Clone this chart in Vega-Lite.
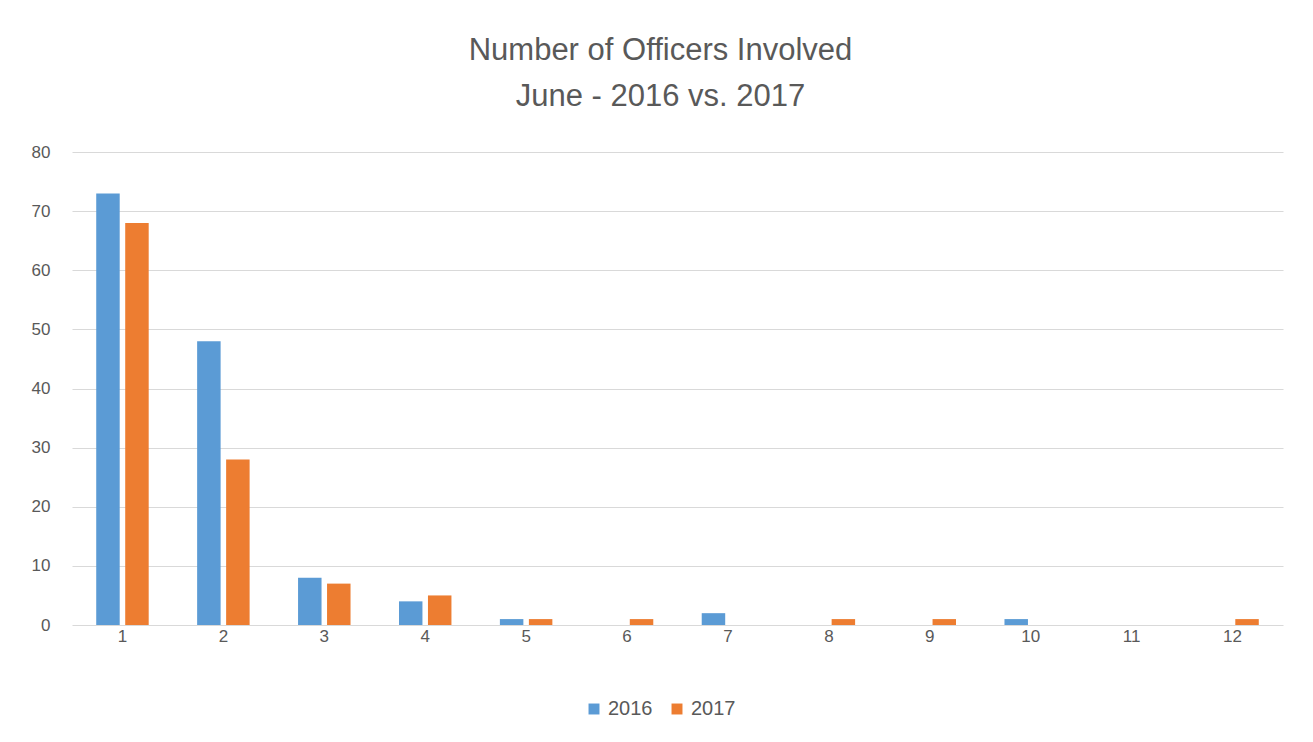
{
  "$schema": "https://vega.github.io/schema/vega-lite/v6.json",
  "autosize": "none",
  "width": 1211,
  "height": 473,
  "padding": {"left": 72, "top": 152, "right": 30, "bottom": 117},
  "background": "white",
  "title": {
    "text": ["Number of Officers Involved", "June - 2016 vs. 2017"],
    "font": "Liberation Sans",
    "fontSize": 31,
    "fontWeight": "normal",
    "color": "#595959",
    "lineHeight": 46,
    "anchor": "middle",
    "dx": -17,
    "offset": 30
  },
  "config": {
    "view": {"stroke": null},
    "axis": {"labelFont": "Liberation Sans", "labelColor": "#595959", "labelFontSize": 17}
  },
  "data": {
    "values": [
      {"officers": "1", "year": "2016", "count": 73},
      {"officers": "1", "year": "2017", "count": 68},
      {"officers": "2", "year": "2016", "count": 48},
      {"officers": "2", "year": "2017", "count": 28},
      {"officers": "3", "year": "2016", "count": 8},
      {"officers": "3", "year": "2017", "count": 7},
      {"officers": "4", "year": "2016", "count": 4},
      {"officers": "4", "year": "2017", "count": 5},
      {"officers": "5", "year": "2016", "count": 1},
      {"officers": "5", "year": "2017", "count": 1},
      {"officers": "6", "year": "2016", "count": 0},
      {"officers": "6", "year": "2017", "count": 1},
      {"officers": "7", "year": "2016", "count": 2},
      {"officers": "7", "year": "2017", "count": 0},
      {"officers": "8", "year": "2016", "count": 0},
      {"officers": "8", "year": "2017", "count": 1},
      {"officers": "9", "year": "2016", "count": 0},
      {"officers": "9", "year": "2017", "count": 1},
      {"officers": "10", "year": "2016", "count": 1},
      {"officers": "10", "year": "2017", "count": 0},
      {"officers": "11", "year": "2016", "count": 0},
      {"officers": "11", "year": "2017", "count": 0},
      {"officers": "12", "year": "2016", "count": 0},
      {"officers": "12", "year": "2017", "count": 1}
    ]
  },
  "mark": {"type": "bar"},
  "encoding": {
    "x": {
      "field": "officers",
      "type": "ordinal",
      "sort": null,
      "scale": {"paddingInner": 0.48, "paddingOuter": 0.24},
      "axis": {"title": null, "labelAngle": 0, "ticks": false, "domain": false, "labelPadding": 3}
    },
    "xOffset": {"field": "year", "type": "nominal", "scale": {"paddingInner": 0.19}},
    "y": {
      "field": "count",
      "type": "quantitative",
      "scale": {"domain": [0, 80]},
      "axis": {"title": null, "values": [0,10,20,30,40,50,60,70,80], "gridColor": "#d9d9d9", "domain": false, "ticks": false, "labelPadding": 22}
    },
    "color": {
      "field": "year",
      "type": "nominal",
      "scale": {"domain": ["2016", "2017"], "range": ["#5b9bd5", "#ed7d31"]},
      "legend": {
        "title": null,
        "orient": "none",
        "direction": "horizontal",
        "legendX": 512,
        "legendY": 547,
        "symbolType": "square",
        "symbolSize": 120,
        "symbolStrokeWidth": 0,
        "labelFont": "Liberation Sans",
        "labelFontSize": 20,
        "labelColor": "#595959",
        "columnPadding": 14
      }
    }
  }
}
